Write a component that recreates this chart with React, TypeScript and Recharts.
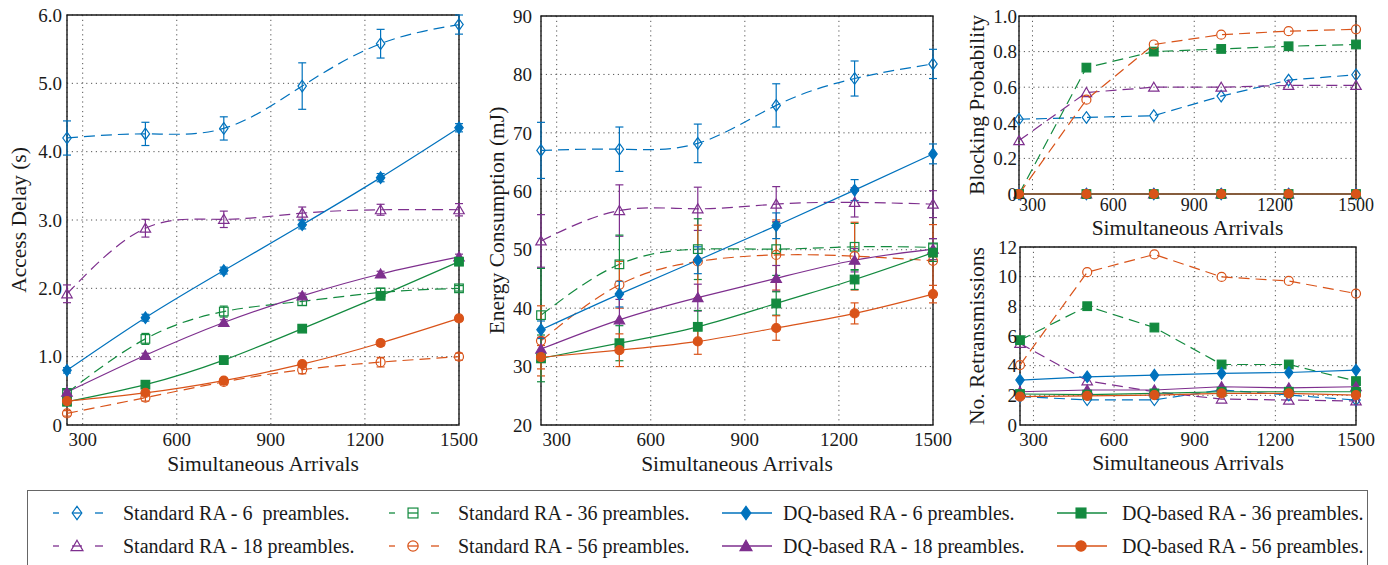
import React from "react";
import { LineChart, Line, XAxis, YAxis, CartesianGrid, ErrorBar, ReferenceArea } from "recharts";

// x values (number of simultaneous arrivals)
const arrivals = [250, 500, 750, 1000, 1250, 1500];
const xTicks = [300, 600, 900, 1200, 1500];

// Access delay (s)
const delayStd6 = [4.2, 4.26, 4.34, 4.96, 5.58, 5.86];
const delayStd18 = [1.92, 2.88, 3.01, 3.1, 3.15, 3.15];
const delayStd36 = [0.47, 1.26, 1.66, 1.81, 1.94, 2.0];
const delayStd56 = [0.17, 0.4, 0.63, 0.81, 0.92, 1.0];
const delayDq6 = [0.8, 1.57, 2.26, 2.93, 3.62, 4.35];
const delayDq18 = [0.48, 1.02, 1.5, 1.89, 2.21, 2.46];
const delayDq36 = [0.34, 0.59, 0.95, 1.41, 1.89, 2.39];
const delayDq56 = [0.35, 0.47, 0.65, 0.89, 1.2, 1.56];
const delayStd6Err = [0.25, 0.17, 0.17, 0.34, 0.21, 0.14];
const delayStd18Err = [0.13, 0.13, 0.12, 0.09, 0.08, 0.09];
const delayStd36Err = [0.05, 0.08, 0.08, 0.06, 0.06, 0.04];
const delayStd56Err = [0.04, 0.05, 0.04, 0.06, 0.07, 0.05];
const delayDq6Err = [0.04, 0.05, 0.05, 0.06, 0.06, 0.06];
const delayDq18Err = [0.03, 0.03, 0.04, 0.04, 0.04, 0.04];
const delayDq36Err = [0.03, 0.03, 0.03, 0.04, 0.04, 0.04];
const delayDq56Err = [0.03, 0.03, 0.03, 0.04, 0.04, 0.04];

// Energy consumption (mJ)
const energyStd6 = [67.0, 67.2, 68.2, 74.7, 79.3, 81.8];
const energyStd18 = [51.5, 56.7, 57.0, 57.8, 58.1, 57.8];
const energyStd36 = [38.8, 47.5, 50.1, 50.1, 50.5, 50.4];
const energyStd56 = [34.4, 44.0, 48.0, 49.1, 48.9, 48.1];
const energyDq6 = [36.3, 42.4, 48.2, 54.1, 60.2, 66.4];
const energyDq18 = [33.0, 38.0, 41.8, 45.1, 48.2, 50.1];
const energyDq36 = [31.4, 34.0, 36.8, 40.8, 44.9, 49.5];
const energyDq56 = [31.6, 32.8, 34.3, 36.6, 39.1, 42.4];
const energyStd6Err = [4.8, 3.8, 3.3, 3.7, 3.0, 2.5];
const energyStd18Err = [4.5, 4.4, 3.7, 3.0, 2.5, 2.3];
const energyStd36Err = [8.0, 5.0, 5.2, 4.5, 4.0, 1.5];
const energyStd56Err = [6.0, 4.0, 6.2, 6.0, 5.8, 6.2];
const energyDq6Err = [1.5, 2.2, 2.3, 2.2, 1.8, 1.7];
const energyDq18Err = [2.0, 3.5, 2.3, 2.2, 2.0, 1.8];
const energyDq36Err = [4.0, 3.0, 2.8, 2.0, 1.7, 1.5];
const energyDq56Err = [2.0, 2.8, 2.2, 2.1, 1.8, 1.5];

// Blocking probability
const blockStd6 = [0.42, 0.43, 0.44, 0.55, 0.64, 0.67];
const blockStd18 = [0.3, 0.57, 0.6, 0.6, 0.61, 0.61];
const blockStd36 = [0.0, 0.71, 0.8, 0.815, 0.83, 0.84];
const blockStd56 = [0.0, 0.53, 0.84, 0.895, 0.915, 0.925];
const blockDq6 = [0, 0, 0, 0, 0, 0];
const blockDq18 = [0, 0, 0, 0, 0, 0];
const blockDq36 = [0, 0, 0, 0, 0, 0];
const blockDq56 = [0, 0, 0, 0, 0, 0];

// Number of retransmissions
const retxStd6 = [1.91, 1.7, 1.7, 2.36, 2.02, 1.68];
const retxStd18 = [5.5, 2.98, 2.24, 1.75, 1.68, 1.62];
const retxStd36 = [5.72, 8.01, 6.57, 4.08, 4.08, 2.96];
const retxStd56 = [4.04, 10.3, 11.5, 9.98, 9.71, 8.86];
const retxDq6 = [3.03, 3.25, 3.36, 3.48, 3.54, 3.7];
const retxDq18 = [2.24, 2.36, 2.36, 2.58, 2.5, 2.58];
const retxDq36 = [2.09, 2.05, 2.13, 2.24, 2.24, 2.24];
const retxDq56 = [1.91, 1.96, 2.02, 2.13, 2.13, 2.02];

const FONT = '"Liberation Serif", "Times New Roman", serif';
const BLUE = "#0072BD";
const PURPLE = "#7E2F8E";
const GREEN = "#138A3F";
const ORANGE = "#D95319";
const INK = "#1a1a1a";

type Shape = "diamond" | "triangle" | "square" | "circle";
type SeriesDef = { key: string; name: string; color: string; shape: Shape; dashed: boolean };

const seriesDefs: SeriesDef[] = [
  { key: "std6", name: "Standard RA - 6  preambles.", color: BLUE, shape: "diamond", dashed: true },
  { key: "std18", name: "Standard RA - 18 preambles.", color: PURPLE, shape: "triangle", dashed: true },
  { key: "std36", name: "Standard RA - 36 preambles.", color: GREEN, shape: "square", dashed: true },
  { key: "std56", name: "Standard RA - 56 preambles.", color: ORANGE, shape: "circle", dashed: true },
  { key: "dq6", name: "DQ-based RA - 6 preambles.", color: BLUE, shape: "diamond", dashed: false },
  { key: "dq18", name: "DQ-based RA - 18 preambles.", color: PURPLE, shape: "triangle", dashed: false },
  { key: "dq36", name: "DQ-based RA - 36 preambles.", color: GREEN, shape: "square", dashed: false },
  { key: "dq56", name: "DQ-based RA - 56 preambles.", color: ORANGE, shape: "circle", dashed: false },
];

function Marker({ cx, cy, shape, color, filled, s = 1 }: any) {
  if (cx == null || cy == null) return null;
  const f = filled ? color : "none";
  const sw = 1.2;
  if (shape === "diamond") {
    const w = 4.2 * s, h = 5.8 * s;
    return <polygon points={`${cx},${cy - h} ${cx + w},${cy} ${cx},${cy + h} ${cx - w},${cy}`} fill={f} stroke={color} strokeWidth={sw} />;
  }
  if (shape === "triangle") {
    const w = 5.2 * s, h = 5 * s;
    return <polygon points={`${cx},${cy - h} ${cx + w},${cy + h * 0.8} ${cx - w},${cy + h * 0.8}`} fill={f} stroke={color} strokeWidth={sw} />;
  }
  if (shape === "square") {
    const a = 4.3 * s;
    return <rect x={cx - a} y={cy - a} width={2 * a} height={2 * a} fill={f} stroke={color} strokeWidth={sw} />;
  }
  return <circle cx={cx} cy={cy} r={4.5 * s} fill={f} stroke={color} strokeWidth={sw} />;
}

type PanelProps = {
  left: number; top: number; width: number; height: number;
  mTop: number; mRight: number; yWidth: number; xHeight: number;
  yDomain: [number, number]; yTicks: number[]; yFmt: (v: number) => string;
  yLabel: string; yLabelOffset: number; yTickMargin: number;
  xTickMargin: number; xLabelOffset: number; xTickSize?: number;
  values: Record<string, number[]>; errors?: Record<string, number[]>;
  curve: "natural" | "linear"; filledStd36?: boolean;
};

function Panel(p: PanelProps) {
  const rows = arrivals.map((x, i) => {
    const r: Record<string, number> = { x };
    for (const k in p.values) r[k] = p.values[k][i];
    if (p.errors) for (const k in p.errors) r[k + "Err"] = p.errors[k][i];
    return r;
  });
  const tickStyle = { fill: INK, fontSize: 19, fontFamily: FONT };

  return (
    <div style={{ position: "absolute", left: p.left, top: p.top }}>
      <LineChart width={p.width} height={p.height} data={rows}
        margin={{ top: p.mTop, right: p.mRight, left: 0, bottom: 0 }}>
        <CartesianGrid stroke="#555" strokeDasharray="1.2 3.6" strokeWidth={1} />
        <XAxis type="number" dataKey="x" domain={[250, 1500]} ticks={xTicks} interval={0}
          height={p.xHeight} tickSize={0} tickMargin={p.xTickMargin} axisLine={false} tickLine={false}
          tick={{ ...tickStyle, fontSize: p.xTickSize ?? 19 }}
          label={{ value: "Simultaneous Arrivals", position: "insideBottom", offset: p.xLabelOffset,
            fill: INK, fontSize: 21.5, fontFamily: FONT }} />
        <YAxis type="number" domain={p.yDomain} ticks={p.yTicks} interval={0} tickFormatter={p.yFmt}
          width={p.yWidth} tickSize={0} tickMargin={p.yTickMargin} axisLine={false} tickLine={false}
          tick={tickStyle}
          label={{ value: p.yLabel, angle: -90, position: "insideLeft", offset: p.yLabelOffset,
            fill: INK, fontSize: 21.5, fontFamily: FONT, style: { textAnchor: "middle" } }} />
        <ReferenceArea x1={250} x2={1500} y1={p.yDomain[0]} y2={p.yDomain[1]}
          fill="none" stroke={INK} strokeWidth={1.4} ifOverflow="visible" />
        {seriesDefs.map((s) => {
          const filled = !s.dashed || (p.filledStd36 && s.key === "std36");
          return (
            <Line key={s.key} dataKey={s.key} type={p.curve} stroke={s.color} strokeWidth={1.2}
              strokeDasharray={s.dashed ? "11 6" : undefined} isAnimationActive={false} activeDot={false}
              dot={(d: any) => (
                <Marker key={`${s.key}-${d.index}`} cx={d.cx} cy={d.cy} shape={s.shape} color={s.color} filled={filled} />
              )}>
              {p.errors && p.errors[s.key] && (
                <ErrorBar dataKey={s.key + "Err"} direction="y" width={4} stroke={s.color} strokeWidth={1.2}
                  isAnimationActive={false} />
              )}
            </Line>
          );
        })}
      </LineChart>
    </div>
  );
}

function LegendKey({ def, x, y }: { def: SeriesDef; x: number; y: number }) {
  const m = 24;
  return (
    <svg width={52} height={24} style={{ position: "absolute", left: x, top: y - 12, overflow: "visible" }}>
      {def.dashed ? (
        <>
          <line x1={0} y1={12} x2={6} y2={12} stroke={def.color} strokeWidth={1.3} />
          <line x1={m - 5} y1={12} x2={m + 5} y2={12} stroke={def.color} strokeWidth={1.3} />
          <line x1={42} y1={12} x2={50} y2={12} stroke={def.color} strokeWidth={1.3} />
        </>
      ) : (
        <line x1={0} y1={12} x2={50} y2={12} stroke={def.color} strokeWidth={1.3} />
      )}
      <Marker cx={m} cy={12} shape={def.shape} color={def.color} filled={!def.dashed} s={1.15} />
    </svg>
  );
}

const legendCols = [
  { keyX: 53, textX: 123 },
  { keyX: 389, textX: 458 },
  { keyX: 722, textX: 783 },
  { keyX: 1057, textX: 1122 },
];
const legendRows = [513, 546];

export default function App() {
  const one = (v: number) => (v === 0 ? "0" : v.toFixed(1));
  const plain = (v: number) => String(v);

  return (
    <div style={{ position: "absolute", left: 0, top: 0, width: 1388, height: 565, background: "#fff", overflow: "hidden", fontFamily: FONT }}>
      <style>{"svg{overflow:visible}"}</style>

      <Panel left={0} top={0} width={470} height={480} mTop={15} mRight={11} yWidth={67} xHeight={55}
        yDomain={[0, 6]} yTicks={[0, 1, 2, 3, 4, 5, 6]} yFmt={one}
        yLabel="Access Delay (s)" yLabelOffset={18} yTickMargin={5} xTickMargin={8} xLabelOffset={9}
        values={{ std6: delayStd6, std18: delayStd18, std36: delayStd36, std56: delayStd56,
          dq6: delayDq6, dq18: delayDq18, dq36: delayDq36, dq56: delayDq56 }}
        errors={{ std6: delayStd6Err, std18: delayStd18Err, std36: delayStd36Err, std56: delayStd56Err,
          dq6: delayDq6Err, dq18: delayDq18Err, dq36: delayDq36Err, dq56: delayDq56Err }}
        curve="natural" />

      <Panel left={470} top={0} width={475} height={480} mTop={16} mRight={12} yWidth={71} xHeight={55}
        yDomain={[20, 90]} yTicks={[20, 30, 40, 50, 60, 70, 80, 90]} yFmt={plain}
        yLabel="Energy Consumption (mJ)" yLabelOffset={26} yTickMargin={9} xTickMargin={8} xLabelOffset={9}
        values={{ std6: energyStd6, std18: energyStd18, std36: energyStd36, std56: energyStd56,
          dq6: energyDq6, dq18: energyDq18, dq36: energyDq36, dq56: energyDq56 }}
        errors={{ std6: energyStd6Err, std18: energyStd18Err, std36: energyStd36Err, std56: energyStd56Err,
          dq6: energyDq6Err, dq18: energyDq18Err, dq36: energyDq36Err, dq56: energyDq56Err }}
        curve="natural" />

      <Panel left={950} top={0} width={420} height={238} mTop={16} mRight={14} yWidth={69} xHeight={44}
        yDomain={[0, 1]} yTicks={[0, 0.2, 0.4, 0.6, 0.8, 1]} yFmt={one}
        yLabel="Blocking Probability" yLabelOffset={26} yTickMargin={2} xTickMargin={4} xLabelOffset={3}
        xTickSize={18}
        values={{ std6: blockStd6, std18: blockStd18, std36: blockStd36, std56: blockStd56,
          dq6: blockDq6, dq18: blockDq18, dq36: blockDq36, dq56: blockDq56 }}
        curve="linear" filledStd36 />

      <Panel left={950} top={230} width={420} height={250} mTop={17} mRight={14} yWidth={70} xHeight={55}
        yDomain={[0, 12]} yTicks={[0, 2, 4, 6, 8, 10, 12]} yFmt={plain}
        yLabel="No. Retransmissions" yLabelOffset={26} yTickMargin={3} xTickMargin={8} xLabelOffset={10}
        values={{ std6: retxStd6, std18: retxStd18, std36: retxStd36, std56: retxStd56,
          dq6: retxDq6, dq18: retxDq18, dq36: retxDq36, dq56: retxDq56 }}
        curve="linear" filledStd36 />

      <div style={{ position: "absolute", left: 27, top: 490, width: 1341, height: 90, border: "1.5px solid #666", boxSizing: "border-box" }} />
      {seriesDefs.map((def, i) => {
        const col = legendCols[Math.floor(i / 2) % 2 + (i >= 4 ? 2 : 0)];
        const rowY = legendRows[i % 2];
        return (
          <React.Fragment key={def.key}>
            <LegendKey def={def} x={col.keyX} y={rowY} />
            <span style={{ position: "absolute", left: col.textX, top: rowY - 10, fontSize: 20, lineHeight: "20px",
              color: INK, whiteSpace: "pre", fontFamily: FONT }}>{def.name}</span>
          </React.Fragment>
        );
      })}
    </div>
  );
}
